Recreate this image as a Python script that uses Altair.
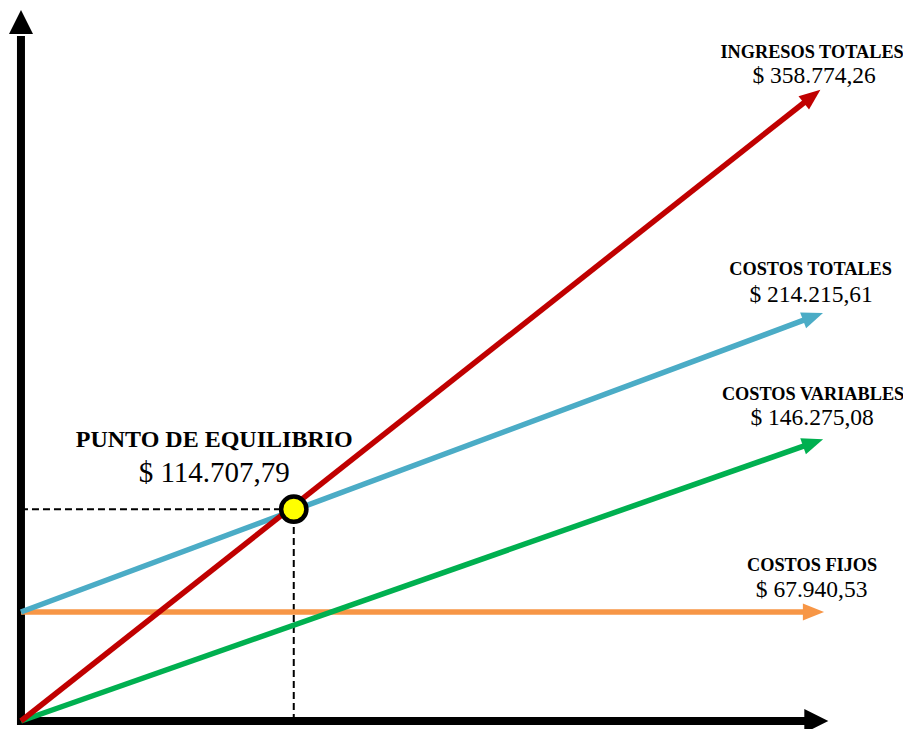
import math
import altair as alt
import pandas as pd

# ---- data (x = volume units, y = dollars) ----
series = ["INGRESOS TOTALES", "COSTOS TOTALES", "COSTOS VARIABLES", "COSTOS FIJOS"]
value_labels = ["$ 358.774,26", "$ 214.215,61", "$ 146.275,08", "$ 67.940,53"]
x_start = [0, 0, 0, 0]
x_end = [100, 100, 100, 100]
y_start = [0, 67940.53, 0, 67940.53]
y_end = [386900, 250600, 172100, 67940.53]
colors = ["#C00000", "#4BACC6", "#00B050", "#F79646"]
draw_order = ["COSTOS FIJOS", "COSTOS VARIABLES", "COSTOS TOTALES", "INGRESOS TOTALES"]

be_title = "PUNTO DE EQUILIBRIO"
be_value = "$ 114.707,79"
be_x = [34.7]
be_y = [132000]

# axis arrow extents (data units)
axis_x_min = [-0.5]
axis_x_shaft_end = [99.9]
axis_x_tip = [102.7]
axis_y_min = [-2500]
axis_y_shaft_end = [427000]
axis_y_tip = [443200]

# ---- layout ----
W, H = 895, 721
X_DOMAIN = [-1.65, 112.2]
Y_DOMAIN = [-4990, 444400]
FONT = "Liberation Serif"
head_off = [(5, -42), (3.5, -44), (6, -45), (5, -40.5)]
val_off = [(7, -17), (4, -17), (5, -20), (4.5, -14.5)]

sx = W / (X_DOMAIN[1] - X_DOMAIN[0])
sy = H / (Y_DOMAIN[1] - Y_DOMAIN[0])

xs = alt.Scale(domain=X_DOMAIN, nice=False, zero=False)
ys = alt.Scale(domain=Y_DOMAIN, nice=False, zero=False)
cscale = alt.Scale(domain=series, range=colors)

rows = []
for i, s in enumerate(series):
    rows.append({"serie": s, "x": x_start[i], "y": y_start[i], "order": 0})
    rows.append({"serie": s, "x": x_end[i], "y": y_end[i], "order": 1})
lines_df = pd.DataFrame(rows)

ends = []
for i, s in enumerate(series):
    ang = math.degrees(math.atan2(-(y_end[i] - y_start[i]) * sy, (x_end[i] - x_start[i]) * sx)) % 360
    ends.append({"serie": s, "x": x_end[i], "y": y_end[i], "angle": ang,
                 "value": value_labels[i]})
ends_df = pd.DataFrame(ends)

X = lambda f="x": alt.X(f"{f}:Q", scale=xs, axis=None)
Y = lambda f="y": alt.Y(f"{f}:Q", scale=ys, axis=None)

layers = []

# axes shafts
axes_df = pd.DataFrame({"x0": [0, axis_x_min[0]], "x1": [0, axis_x_shaft_end[0]],
                        "y0": [axis_y_min[0], 0], "y1": [axis_y_shaft_end[0], 0]})
layers.append(alt.Chart(axes_df).mark_rule(color="black", strokeWidth=8).encode(
    x=X("x0"), x2="x1", y=Y("y0"), y2="y1"))

# axes arrowheads
tips_df = pd.DataFrame({"x": [0, axis_x_tip[0]], "y": [axis_y_tip[0], 0], "angle": [270, 0]})
layers.append(alt.Chart(tips_df).mark_point(
    shape="M0,0L-2,-1L-2,1Z", size=576, filled=True, fill="black", opacity=1, strokeWidth=0
).encode(x=X(), y=Y(), angle=alt.Angle("angle:Q", scale=None)))

# dashed guides to break-even point
guide_df = pd.DataFrame({"x0": [0, be_x[0]], "x1": [be_x[0], be_x[0]],
                         "y0": [be_y[0], 0], "y1": [be_y[0], be_y[0]]})
layers.append(alt.Chart(guide_df).mark_rule(color="black", strokeWidth=2, strokeDash=[7, 4]).encode(
    x=X("x0"), x2="x1", y=Y("y0"), y2="y1"))

# series lines + arrowheads
for s in draw_order:
    sub = lines_df[lines_df.serie == s]
    layers.append(alt.Chart(sub).mark_line(strokeWidth=5.5).encode(
        x=X(), y=Y(), order="order:Q",
        color=alt.Color("serie:N", scale=cscale, legend=None)))
    esub = ends_df[ends_df.serie == s]
    layers.append(alt.Chart(esub).mark_point(
        shape="M1.6,0L-0.4,-0.8L-0.4,0.8Z", size=450, filled=True, opacity=1, strokeWidth=0
    ).encode(x=X(), y=Y(), angle=alt.Angle("angle:Q", scale=None),
             fill=alt.Color("serie:N", scale=cscale, legend=None)))

# series labels
for i, s in enumerate(series):
    esub = ends_df[ends_df.serie == s]
    layers.append(alt.Chart(esub).mark_text(
        font=FONT, fontSize=18.3, fontWeight="bold", align="center", baseline="alphabetic",
        dx=head_off[i][0], dy=head_off[i][1], color="black"
    ).encode(x=X(), y=Y(), text="serie:N"))
    layers.append(alt.Chart(esub).mark_text(
        font=FONT, fontSize=23.5, align="center", baseline="alphabetic",
        dx=val_off[i][0], dy=val_off[i][1], color="black"
    ).encode(x=X(), y=Y(), text="value:N"))

# break-even point
be_df = pd.DataFrame({"x": be_x, "y": be_y, "t": [be_title], "v": [be_value]})
layers.append(alt.Chart(be_df).mark_point(
    shape="circle", size=640, filled=True, fill="#FFFF00", stroke="black", strokeWidth=4.5, opacity=1
).encode(x=X(), y=Y()))
layers.append(alt.Chart(be_df).mark_text(
    font=FONT, fontSize=24, fontWeight="bold", align="center", baseline="alphabetic",
    dx=-79.5, dy=-62, color="black").encode(x=X(), y=Y(), text="t:N"))
layers.append(alt.Chart(be_df).mark_text(
    font=FONT, fontSize=29, align="center", baseline="alphabetic",
    dx=-79.5, dy=-27, color="black").encode(x=X(), y=Y(), text="v:N"))

chart = alt.layer(*layers).properties(
    width=W, height=H, padding=0, autosize="none", background="white"
).configure_view(stroke=None)

chart.save("out.html", embed_options={"renderer": "svg", "actions": False})
